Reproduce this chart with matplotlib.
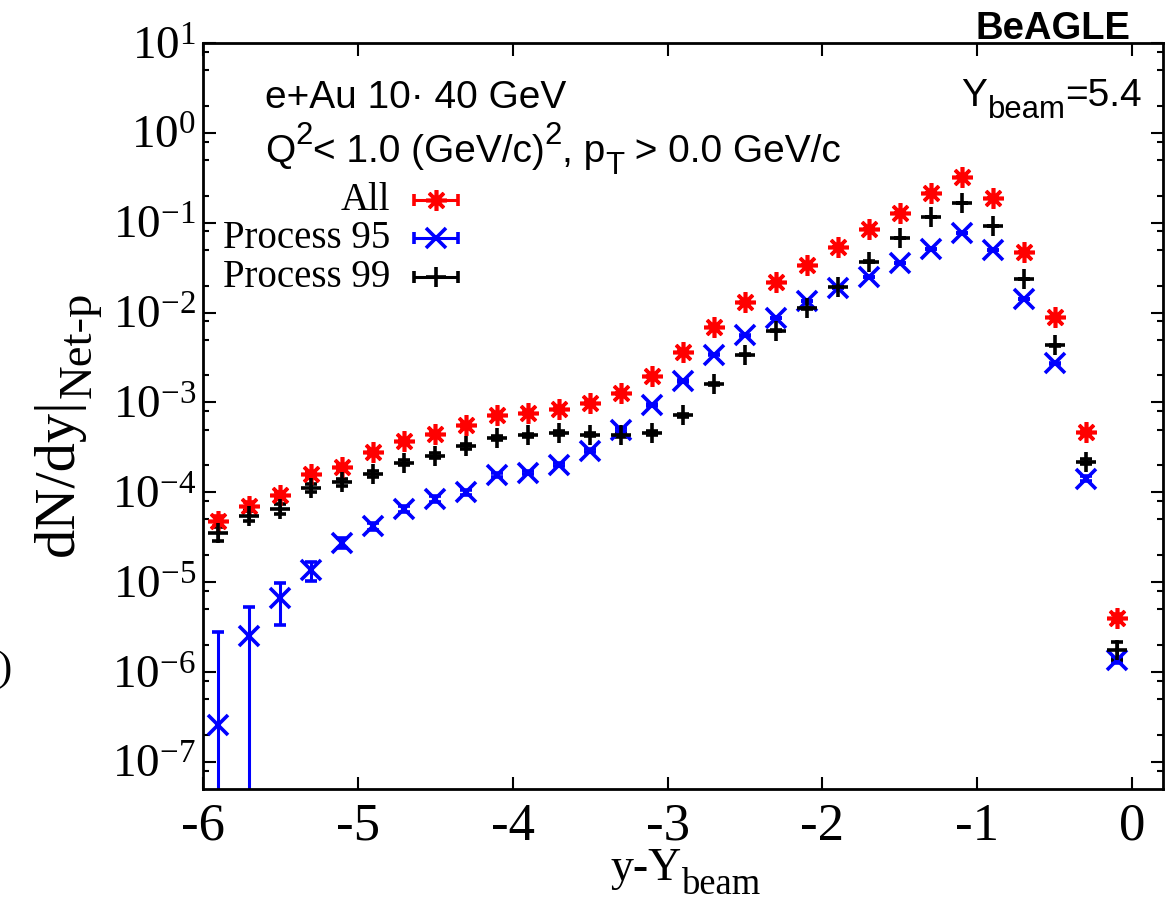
import numpy as np
import matplotlib
matplotlib.use("Agg")
import matplotlib.pyplot as plt
from matplotlib.ticker import FixedLocator, NullFormatter, FuncFormatter, NullLocator

plt.rcParams['mathtext.fontset'] = 'custom'
plt.rcParams['mathtext.rm'] = 'Liberation Serif'
plt.rcParams['mathtext.it'] = 'Liberation Serif:italic'
plt.rcParams['mathtext.sf'] = 'Liberation Sans'
plt.rcParams['axes.unicode_minus'] = False

# rapidity bins (y - Y_beam)
y_rap = [-5.9, -5.7, -5.5, -5.3, -5.1, -4.9, -4.7, -4.5, -4.3, -4.1,
         -3.9, -3.7, -3.5, -3.3, -3.1, -2.9, -2.7, -2.5, -2.3, -2.1,
         -1.9, -1.7, -1.5, -1.3, -1.1, -0.9, -0.7, -0.5, -0.3, -0.1]

# All
all_val = [4.85e-5, 7.1e-5, 9.4e-5, 1.58e-4, 1.9e-4, 2.78e-4, 3.7e-4, 4.5e-4, 5.6e-4, 7.2e-4,
           7.7e-4, 8.5e-4, 9.8e-4, 1.26e-3, 1.95e-3, 3.65e-3, 7.0e-3, 1.3e-2, 2.2e-2, 3.4e-2,
           5.4e-2, 8.5e-2, 0.128, 0.212, 0.32, 0.19, 0.047, 8.9e-3, 4.65e-4, 4.0e-6]
all_err = [6e-6, 7e-6, 8e-6, 1.1e-5, 1.2e-5, 1.4e-5, 1.6e-5, 1.8e-5, 2e-5, 2.2e-5,
           2.3e-5, 2.4e-5, 2.6e-5, 2.9e-5, 3.5e-5, 4.8e-5, 7e-5, 9e-5, 1.2e-4, 1.5e-4,
           1.9e-4, 2.4e-4, 3e-4, 3.8e-4, 4.6e-4, 3.6e-4, 1.8e-4, 8e-5, 1.8e-5, 4e-7]

# Process 95
p95_val = [2.6e-7, 2.5e-6, 6.6e-6, 1.35e-5, 2.75e-5, 4.2e-5, 6.5e-5, 8.5e-5, 1.0e-4, 1.55e-4,
           1.66e-4, 2.04e-4, 2.9e-4, 5.0e-4, 9.3e-4, 1.73e-3, 3.4e-3, 5.6e-3, 8.7e-3, 1.35e-2,
           1.87e-2, 2.5e-2, 3.55e-2, 5.1e-2, 7.7e-2, 5.0e-2, 1.41e-2, 2.73e-3, 1.42e-4, 1.35e-6]
p95_err = [2.5e-6, 2.8e-6, 3.3e-6, 3.2e-6, 3.5e-6, 4e-6, 5e-6, 6e-6, 6e-6, 8e-6,
           8e-6, 1e-5, 1.2e-5, 1.6e-5, 2.2e-5, 3e-5, 4.5e-5, 6e-5, 7e-5, 9e-5,
           1.1e-4, 1.3e-4, 1.5e-4, 1.8e-4, 2.2e-4, 1.8e-4, 9e-5, 4e-5, 9e-6, 1e-7]

# Process 99
p99_val = [3.5e-5, 5.5e-5, 6.6e-5, 1.13e-4, 1.29e-4, 1.62e-4, 2.14e-4, 2.57e-4, 3.24e-4, 4.0e-4,
           4.3e-4, 4.6e-4, 4.4e-4, 4.3e-4, 4.6e-4, 7.2e-4, 1.62e-3, 3.4e-3, 6.3e-3, 1.12e-2,
           1.92e-2, 3.7e-2, 6.8e-2, 0.115, 0.166, 0.092, 0.0236, 4.35e-3, 2.2e-4, 1.75e-6]
p99_err = [6e-6, 7e-6, 8e-6, 1.1e-5, 1.2e-5, 1.3e-5, 1.5e-5, 1.6e-5, 1.8e-5, 2e-5,
           2e-5, 2.1e-5, 2e-5, 2e-5, 2.1e-5, 2.7e-5, 4e-5, 6e-5, 8e-5, 1.1e-4,
           1.4e-4, 2e-4, 2.6e-4, 3.4e-4, 4e-4, 3e-4, 1.5e-4, 6e-5, 1.5e-5, 4e-7]

series_labels = ['All', 'Process 95', 'Process 99']
series_colors = ['#ff0000', '#0000ff', '#000000']
series_markers = [(8, 2, 0), 'x', '+']

x_ticks = [-6, -5, -4, -3, -2, -1, 0]
y_decades = [-7, -6, -5, -4, -3, -2, -1, 0, 1]

W, H = 1173, 910
fig = plt.figure(figsize=(W / 100, H / 100), dpi=100)
ax = fig.add_axes([203 / W, 1 - 789 / H, 960 / W, 746 / H])

style = dict(linestyle='none', markersize=15, markeredgewidth=2.6,
             elinewidth=2.2, capsize=4.5, capthick=2.2)
data = [(all_val, all_err), (p95_val, p95_err), (p99_val, p99_err)]
for (vals, errs), col, mk in zip(data, series_colors, series_markers):
    ax.errorbar(y_rap, vals, yerr=errs, color=col, marker=mk, **style)

ax.set_yscale('log')
ax.set_xlim(-6, 0.2)
ax.set_ylim(5e-8, 10)

ax.set_xticks(x_ticks)
ax.xaxis.set_minor_locator(NullLocator())
ax.yaxis.set_major_locator(FixedLocator([10.0 ** d for d in y_decades]))
minor = [m * 10.0 ** d for d in range(-8, 1) for m in (2, 5, 8)]
ax.yaxis.set_minor_locator(FixedLocator([v for v in minor if 5e-8 < v < 10]))
ax.yaxis.set_minor_formatter(NullFormatter())
ax.yaxis.set_major_formatter(FuncFormatter(lambda v, p: r'$\mathrm{10^{%d}}$' % round(np.log10(v))))

ax.tick_params(which='both', direction='in', top=True, right=True, width=1.5)
ax.tick_params(which='major', length=9)
ax.tick_params(which='minor', length=4.5)
ax.tick_params(axis='x', pad=10, labelsize=38)
ax.tick_params(axis='y', pad=5, labelsize=34)
for lbl in ax.get_xticklabels() + ax.get_yticklabels():
    lbl.set_fontfamily('Liberation Serif')
for sp in ax.spines.values():
    sp.set_linewidth(2.0)

# manual legend, text right-aligned to the left of the symbols
leg_y = [0.7895, 0.7386, 0.6863]
for (lab, col, mk, ly) in zip(series_labels, series_colors, series_markers, leg_y):
    ax.text(0.1948, ly, lab, transform=ax.transAxes, ha='right', va='center',
            fontsize=28, fontfamily='Liberation Serif')
    ax.errorbar([0.2427], [ly], xerr=[0.0229], transform=ax.transAxes, color=col,
                marker=mk, clip_on=False, **style)

renderer = fig.canvas.get_renderer()


def rich_text(x, y, pieces, size, family, ha='left', weight='normal', rot=False):
    """gnuplot-like enhanced text: pieces are (string, kind), kind in '', 'sup', 'sub'.
    x, y are pixels from top-left; y (or x when rotated) is the baseline."""
    items = []
    for s, kind in pieces:
        fs = size * (0.8 if kind else 1.0)
        t = fig.text(0, 0, s, fontsize=fs, fontfamily=family, fontweight=weight,
                     ha='left', va='baseline', rotation=90 if rot else 0,
                     rotation_mode='anchor')
        ext = t.get_window_extent(renderer)
        items.append((t, kind, ext.height if rot else ext.width))
    total = sum(w for _, _, w in items)
    pos = {'left': 0, 'center': total / 2, 'right': total}[ha]
    along = y + pos if rot else x - pos
    em = size * 100 / 72
    for t, kind, w in items:
        shift = {'': 0, 'sup': -0.45 * em, 'sub': 0.3 * em}[kind]
        if rot:
            t.set_position(((x + shift) / W, 1 - along / H))
            along -= w
        else:
            t.set_position((along / W, 1 - (y + shift) / H))
            along += w


sans = 'Liberation Sans'
serif = 'Liberation Serif'
rich_text(265, 108, [('e+Au 10\u00b7 40 GeV', '')], 28, sans)
rich_text(265, 162, [('Q', ''), ('2', 'sup'), ('< 1.0 (GeV/c)', ''), ('2', 'sup'),
                     (', p', ''), ('T', 'sub'), (' > 0.0 GeV/c', '')], 28, sans)
rich_text(1142, 106, [('Y', ''), ('beam', 'sub'), ('=5.4', '')], 28, sans, ha='right')
rich_text(1130, 39, [('BeAGLE', '')], 27.5, sans, ha='right', weight='bold')

rich_text(73, 424, [('dN/dy|', ''), ('Net-p', 'sub')], 42, serif, ha='center', rot=True)
rich_text(686, 880, [('y-Y', ''), ('beam', 'sub')], 33, serif, ha='center')

# fragment of neighbouring panel at the left edge
fig.text(12 / W, 1 - 670 / H, ')', fontsize=31, fontfamily=serif, ha='right', va='center')

fig.savefig('out.png', dpi=100)
